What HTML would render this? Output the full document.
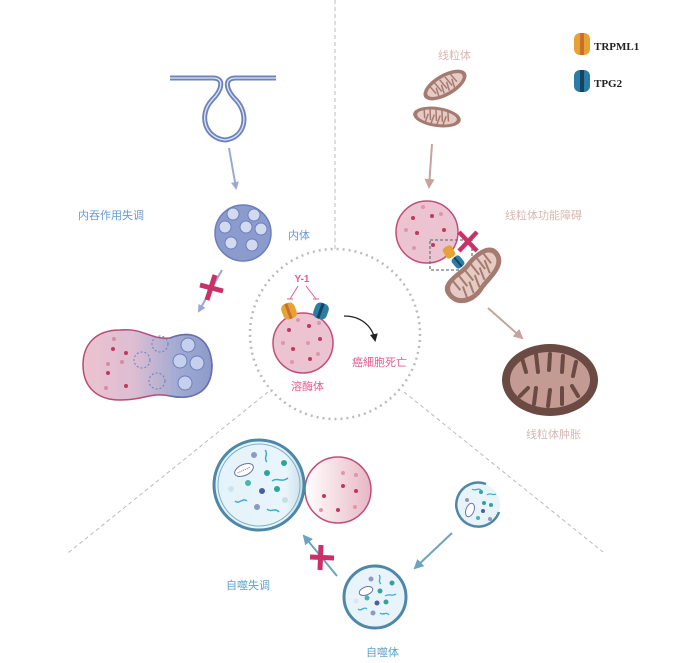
<!DOCTYPE html>
<html><head><meta charset="utf-8"><style>
html,body{margin:0;padding:0;background:#fff;width:673px;height:663px;overflow:hidden}
svg{display:block}
</style></head><body>
<svg width="673" height="663" viewBox="0 0 673 663" xmlns="http://www.w3.org/2000/svg" font-family="Liberation Sans, Noto Sans CJK SC, sans-serif">
<defs>
<linearGradient id="fuse" x1="0" x2="1" y1="0" y2="0">
<stop offset="0" stop-color="#ecc3cf"/><stop offset="0.4" stop-color="#dcbdd2"/><stop offset="0.75" stop-color="#9fa9d2"/><stop offset="1" stop-color="#8d9bcb"/></linearGradient>
<linearGradient id="pinkg" x1="0" x2="1"><stop offset="0" stop-color="#fff"/><stop offset="1" stop-color="#e8b7c4"/></linearGradient>
<linearGradient id="blueg" x1="0" x2="1"><stop offset="0" stop-color="#e4f3fa"/><stop offset="0.8" stop-color="#e9f5fb"/><stop offset="1" stop-color="#c7dde8"/></linearGradient>
<marker id="ab" markerWidth="8" markerHeight="8" refX="6" refY="4" orient="auto" markerUnits="userSpaceOnUse"><path d="M0,0 L8,4 L0,8 Z" fill="#9aa8d4"/></marker>
<marker id="ar" markerWidth="10" markerHeight="10" refX="8" refY="5" orient="auto" markerUnits="userSpaceOnUse"><path d="M0,0 L10,5 L0,10 Z" fill="#c7a39d"/></marker>
<marker id="at" markerWidth="10" markerHeight="10" refX="8" refY="5" orient="auto" markerUnits="userSpaceOnUse"><path d="M0,0 L10,5 L0,10 Z" fill="#6ea3c0"/></marker>
<marker id="ak" markerWidth="8" markerHeight="8" refX="6" refY="4" orient="auto" markerUnits="userSpaceOnUse"><path d="M0,0 L8,4 L0,8 Z" fill="#222"/></marker>
</defs>

<line x1="335" y1="0" x2="335" y2="250" stroke="#bbb" stroke-dasharray="4,3"/>
<line x1="268" y1="392" x2="68" y2="553" stroke="#bbb" stroke-dasharray="4,3"/>
<line x1="404" y1="392" x2="603" y2="552" stroke="#bbb" stroke-dasharray="4,3"/>
<circle cx="335" cy="334" r="85" fill="none" stroke="#bbb" stroke-width="2.5" stroke-dasharray="2,4"/>

<path d="M170,78 H213 C225,78 222,90 212,100 C198,115 205,138 225,140 C245,138 250,115 236,100 C226,90 223,78 236,78 H276" fill="none" stroke="#6d83bd" stroke-width="5"/>
<path d="M170,78 H213 C225,78 222,90 212,100 C198,115 205,138 225,140 C245,138 250,115 236,100 C226,90 223,78 236,78 H276" fill="none" stroke="#dfe5f4" stroke-width="1.3"/>
<line x1="229" y1="148" x2="236" y2="188" stroke="#9aa8d4" stroke-width="2" marker-end="url(#ab)"/>
<text x="78" y="219" font-size="11" fill="#6a9ad3">内吞作用失调</text>
<text x="288" y="239" font-size="11" fill="#6a9ad3">内体</text>
<circle cx="243" cy="233" r="28" fill="#8c9bcd" stroke="#6d7fbc" stroke-width="1.5"/>
<g fill="#d2daf0" stroke="#6d7fbc">
<circle cx="233" cy="214" r="6"/><circle cx="254" cy="215" r="6"/><circle cx="225" cy="227" r="6"/><circle cx="246" cy="227" r="6"/><circle cx="261" cy="229" r="6"/><circle cx="231" cy="243" r="6"/><circle cx="252" cy="245" r="6"/></g>
<line x1="222" y1="270" x2="199" y2="311" stroke="#9aa8d4" stroke-width="2" marker-end="url(#ab)"/>
<g stroke="#c93269" stroke-width="5"><line x1="200" y1="285" x2="223" y2="291"/><line x1="215" y1="275" x2="207" y2="300"/></g>

<path d="M120,330 C145,328 150,340 170,338 C190,330 210,335 212,365 C212,395 190,400 170,396 C150,392 145,400 120,400 C95,400 83,385 83,365 C83,345 95,330 120,330 Z" fill="url(#fuse)" stroke="#b94b74" stroke-width="1.5"/>
<path d="M170,338 C190,330 210,335 212,365 C212,395 190,400 170,396" fill="none" stroke="#6172b4" stroke-width="1.5"/>
<g fill="#c4d0ec" stroke="#6d7fbc"><circle cx="188" cy="345" r="7"/><circle cx="180" cy="361" r="7"/><circle cx="197" cy="363" r="7"/><circle cx="185" cy="383" r="7"/></g>
<g fill="none" stroke="#6d7fbc" stroke-dasharray="2,2"><circle cx="160" cy="344" r="8"/><circle cx="142" cy="360" r="8"/><circle cx="157" cy="381" r="8"/></g>
<g fill="#c0385e"><circle cx="113" cy="349" r="2"/><circle cx="126" cy="353" r="2"/><circle cx="108" cy="364" r="2" fill="#d98aa0"/><circle cx="122" cy="362" r="2" fill="#d98aa0"/><circle cx="108" cy="373" r="2"/><circle cx="126" cy="386" r="2"/><circle cx="106" cy="388" r="2" fill="#d98aa0"/><circle cx="114" cy="339" r="2" fill="#d98aa0"/></g>

<text x="302" y="282" font-size="10" fill="#e0608a" text-anchor="middle" font-weight="bold">Y-1</text>
<g stroke="#e0608a" stroke-width="1"><line x1="298" y1="286" x2="290" y2="299"/><line x1="287" y1="299" x2="293" y2="299"/><line x1="306" y1="286" x2="316" y2="299"/><line x1="313" y1="299" x2="319" y2="299"/></g>
<circle cx="303" cy="343" r="30" fill="#ecc4d1" stroke="#c34d79" stroke-width="1.5"/>
<g fill="#c0385e"><circle cx="289" cy="330" r="2"/><circle cx="309" cy="326" r="2"/><circle cx="293" cy="349" r="2"/><circle cx="320" cy="339" r="2"/><circle cx="310" cy="359" r="2"/></g>
<g fill="#e095ab"><circle cx="298" cy="320" r="2"/><circle cx="283" cy="343" r="2"/><circle cx="308" cy="343" r="2"/><circle cx="292" cy="362" r="2"/><circle cx="318" cy="354" r="2"/><circle cx="319" cy="323" r="2"/></g>
<g transform="translate(289,311) rotate(-20)"><rect x="-7" y="-8" width="14" height="16" rx="5" fill="#e7a234"/><rect x="-2" y="-8" width="3" height="16" fill="#c86f2b"/></g>
<g transform="translate(321,311) rotate(20)"><rect x="-7" y="-8" width="14" height="16" rx="5" fill="#2c7ca8"/><rect x="-2" y="-8" width="3" height="16" fill="#16445f"/></g>
<path d="M344,316 C360,316 372,325 375,340" fill="none" stroke="#222" stroke-width="1.3" marker-end="url(#ak)"/>
<text x="352" y="366" font-size="11" fill="#e0608a">癌細胞死亡</text>
<text x="291" y="390" font-size="11" fill="#e0608a">溶酶体</text>

<rect x="574" y="33" width="16" height="22" rx="6" fill="#e7a234"/><rect x="580" y="33" width="4" height="22" fill="#c86f2b"/>
<text x="594" y="50" font-size="11" font-family="Liberation Serif, serif" font-weight="bold" fill="#222">TRPML1</text>
<rect x="574" y="70" width="16" height="22" rx="6" fill="#2c7ca8"/><rect x="580" y="70" width="4" height="22" fill="#16445f"/>
<text x="594" y="87" font-size="11" font-family="Liberation Serif, serif" font-weight="bold" fill="#222">TPG2</text>

<text x="438" y="59" font-size="11" fill="#d6b8b2">线粒体</text>
<g transform="translate(445,85) rotate(-30)"><ellipse rx="24" ry="11" fill="#a57b71"/><ellipse rx="20" ry="7.5" fill="#e6cbc4"/><g stroke="#a57b71" stroke-width="1.5"><line x1="-14" y1="-7" x2="-12" y2="3"/><line x1="-8" y1="-7" x2="-6" y2="4"/><line x1="-2" y1="-7" x2="0" y2="4"/><line x1="4" y1="-7" x2="6" y2="4"/><line x1="10" y1="-7" x2="12" y2="3"/><line x1="-11" y1="7" x2="-9" y2="-2"/><line x1="-5" y1="7" x2="-3" y2="-2"/><line x1="1" y1="7" x2="3" y2="-2"/><line x1="7" y1="7" x2="9" y2="-2"/></g></g>
<g transform="translate(437,117) rotate(8)"><ellipse rx="24" ry="10" fill="#a57b71"/><ellipse rx="20" ry="7" fill="#e6cbc4"/><g stroke="#a57b71" stroke-width="1.5"><line x1="-14" y1="-7" x2="-12" y2="3"/><line x1="-8" y1="-7" x2="-6" y2="4"/><line x1="-2" y1="-7" x2="0" y2="4"/><line x1="4" y1="-7" x2="6" y2="4"/><line x1="10" y1="-7" x2="12" y2="3"/><line x1="-11" y1="7" x2="-9" y2="-2"/><line x1="-5" y1="7" x2="-3" y2="-2"/><line x1="1" y1="7" x2="3" y2="-2"/><line x1="7" y1="7" x2="9" y2="-2"/></g></g>
<line x1="432" y1="144" x2="429" y2="187" stroke="#c7a39d" stroke-width="2" marker-end="url(#ar)"/>
<circle cx="427" cy="232" r="31" fill="#ecc4d1" stroke="#c34d79" stroke-width="1.5"/>
<g fill="#c0385e"><circle cx="413" cy="218" r="2"/><circle cx="432" cy="216" r="2"/><circle cx="417" cy="233" r="2"/><circle cx="444" cy="230" r="2"/><circle cx="433" cy="245" r="2"/></g>
<g fill="#e095ab"><circle cx="423" cy="207" r="2"/><circle cx="406" cy="230" r="2"/><circle cx="441" cy="214" r="2"/><circle cx="414" cy="248" r="2"/></g>
<rect x="430" y="240" width="42" height="30" fill="none" stroke="#777" stroke-width="1.3" stroke-dasharray="3,2"/>
<g stroke="#c93269" stroke-width="4.5"><line x1="459" y1="232" x2="477" y2="251"/><line x1="477" y1="232" x2="459" y2="251"/></g>
<g transform="translate(473,276) rotate(-30)"><path d="M-32,4 C-34,-12 -10,-10 0,-14 C14,-20 34,-22 34,-6 C34,10 10,12 0,18 C-14,24 -30,20 -32,4 Z" fill="#a57b71"/><path d="M-27,4 C-28,-8 -8,-6 0,-9 C12,-15 29,-17 29,-6 C29,6 8,8 0,13 C-12,19 -26,15 -27,4 Z" fill="#e6cbc4"/><g stroke="#a57b71" stroke-width="2"><line x1="-20" y1="-6" x2="-18" y2="6"/><line x1="-12" y1="-7" x2="-10" y2="6"/><line x1="-4" y1="-9" x2="-2" y2="4"/><line x1="4" y1="-12" x2="6" y2="2"/><line x1="12" y1="-15" x2="14" y2="0"/><line x1="20" y1="-16" x2="22" y2="-2"/><line x1="-16" y1="16" x2="-14" y2="4"/><line x1="-8" y1="15" x2="-6" y2="3"/><line x1="0" y1="13" x2="2" y2="0"/><line x1="8" y1="9" x2="10" y2="-4"/><line x1="16" y1="6" x2="18" y2="-8"/></g></g>
<g transform="translate(449,252) rotate(-30)"><rect x="-5" y="-6" width="10" height="12" rx="3" fill="#e7a234"/></g>
<g transform="translate(458,262) rotate(-40)"><rect x="-5" y="-6" width="10" height="12" rx="3" fill="#2c7ca8"/><rect x="-1" y="-6" width="2" height="12" fill="#16445f"/></g>
<text x="505" y="219" font-size="11" fill="#d6b8b2">线粒体功能障碍</text>
<line x1="488" y1="308" x2="522" y2="338" stroke="#c7a39d" stroke-width="2" marker-end="url(#ar)"/>
<ellipse cx="550" cy="380" rx="48" ry="36" fill="#6b4a43"/>
<ellipse cx="550" cy="380" rx="40" ry="28" fill="#c39b93"/>
<g stroke="#6b4a43" stroke-width="4" stroke-linecap="round" fill="none"><line x1="522" y1="358" x2="526" y2="372"/><line x1="536" y1="354" x2="538" y2="372"/><line x1="550" y1="354" x2="549" y2="370"/><line x1="563" y1="356" x2="562" y2="372"/><line x1="576" y1="362" x2="573" y2="376"/><line x1="520" y1="396" x2="528" y2="388"/><line x1="534" y1="404" x2="536" y2="388"/><line x1="548" y1="406" x2="550" y2="390"/><line x1="562" y1="404" x2="562" y2="388"/><line x1="578" y1="396" x2="572" y2="386"/></g>
<text x="526" y="438" font-size="11" fill="#d6b8b2">线粒体肿胀</text>

<circle cx="338" cy="490" r="33" fill="url(#pinkg)" stroke="#c34d79" stroke-width="1.5"/>
<g fill="#c0385e"><circle cx="343" cy="473" r="2" fill="#e095ab"/><circle cx="343" cy="486" r="2"/><circle cx="356" cy="491" r="2"/><circle cx="324" cy="496" r="2"/><circle cx="338" cy="510" r="2"/><circle cx="356" cy="475" r="2" fill="#e095ab"/><circle cx="355" cy="507" r="2" fill="#e095ab"/><circle cx="321" cy="510" r="2" fill="#e095ab"/></g>
<circle cx="259" cy="485" r="45" fill="url(#blueg)" stroke="#4e88a8" stroke-width="3"/>
<circle cx="259" cy="485" r="41" fill="none" stroke="#7fb0c9" stroke-width="1"/>
<g transform="translate(244,470) rotate(-25)"><ellipse rx="10" ry="5.5" fill="#fff" stroke="#6a74a8"/><path d="M-7,0 h14" stroke="#6a74a8" stroke-dasharray="1,1"/></g>
<g><circle cx="254" cy="455" r="3" fill="#8f97c6"/><circle cx="284" cy="463" r="3" fill="#2ea59a"/><circle cx="267" cy="473" r="3" fill="#2ea59a"/><circle cx="248" cy="483" r="3" fill="#4ab5ad"/><circle cx="262" cy="491" r="3" fill="#4a5ea6"/><circle cx="277" cy="489" r="3" fill="#2ea59a"/><circle cx="231" cy="489" r="3" fill="#cfe3ee"/><circle cx="285" cy="500" r="3" fill="#bfe3e2"/><circle cx="257" cy="507" r="3" fill="#8f97c6"/></g>
<g fill="none" stroke="#3aaecb" stroke-width="1.5"><path d="M265,450 c4,4 -2,8 2,12"/><path d="M272,481 c6,-4 10,2 16,-3"/><path d="M235,501 c4,4 8,-4 12,0"/><path d="M267,509 c4,4 8,-2 12,3"/></g>
<text x="226" y="589" font-size="11" fill="#5ba3c7">自噬失调</text>
<line x1="337" y1="576" x2="304" y2="536" stroke="#6ea3c0" stroke-width="2" marker-end="url(#at)"/>
<g stroke="#c93269" stroke-width="5"><line x1="310" y1="557" x2="334" y2="558"/><line x1="321" y1="545" x2="320" y2="570"/></g>
<circle cx="375" cy="597" r="31" fill="#e8f4fa" stroke="#4e88a8" stroke-width="3"/>
<g transform="translate(366,591) rotate(-20)"><ellipse rx="7" ry="4" fill="#fff" stroke="#6a74a8"/></g>
<g><circle cx="371" cy="579" r="2.5" fill="#8f97c6"/><circle cx="392" cy="583" r="2.5" fill="#2ea59a"/><circle cx="380" cy="591" r="2.5" fill="#2ea59a"/><circle cx="367" cy="598" r="2.5" fill="#4ab5ad"/><circle cx="377" cy="603" r="2.5" fill="#4a5ea6"/><circle cx="386" cy="602" r="2.5" fill="#2ea59a"/><circle cx="373" cy="613" r="2.5" fill="#8f97c6"/><circle cx="356" cy="601" r="2.5" fill="#d8e8f0"/></g>
<g fill="none" stroke="#3aaecb" stroke-width="1.3"><path d="M379,575 c3,3 -2,6 2,9"/><path d="M385,596 c4,-3 7,1 11,-2"/><path d="M358,609 c3,3 6,-3 9,0"/><path d="M380,613 c3,3 6,-2 9,2"/></g>
<text x="366" y="656" font-size="11" fill="#5ba3c7">自噬体</text>
<line x1="452" y1="533" x2="415" y2="568" stroke="#6ea3c0" stroke-width="2" marker-end="url(#at)"/>
<circle cx="478" cy="505" r="22" fill="#e8f4fa"/>
<path d="M486,484 A22,22 0 1 0 499,512" fill="none" stroke="#4e88a8" stroke-width="2.5"/>
<g><circle cx="481" cy="492" r="2" fill="#2ea59a"/><circle cx="467" cy="500" r="2" fill="#8f97c6"/><circle cx="484" cy="503" r="2" fill="#2ea59a"/><circle cx="483" cy="511" r="2" fill="#4a5ea6"/><circle cx="491" cy="505" r="2" fill="#2ea59a"/><circle cx="478" cy="518" r="2" fill="#4ab5ad"/><circle cx="490" cy="519" r="2" fill="#8f97c6"/></g>
<g fill="none" stroke="#3aaecb" stroke-width="1.2"><path d="M472,489 c3,3 6,-2 9,1"/><path d="M487,495 c3,-3 6,1 9,-1"/></g>
<ellipse cx="470" cy="510" rx="4" ry="7" fill="#fff" stroke="#6a74a8" transform="rotate(20 470 510)"/>
</svg>
</body></html>
